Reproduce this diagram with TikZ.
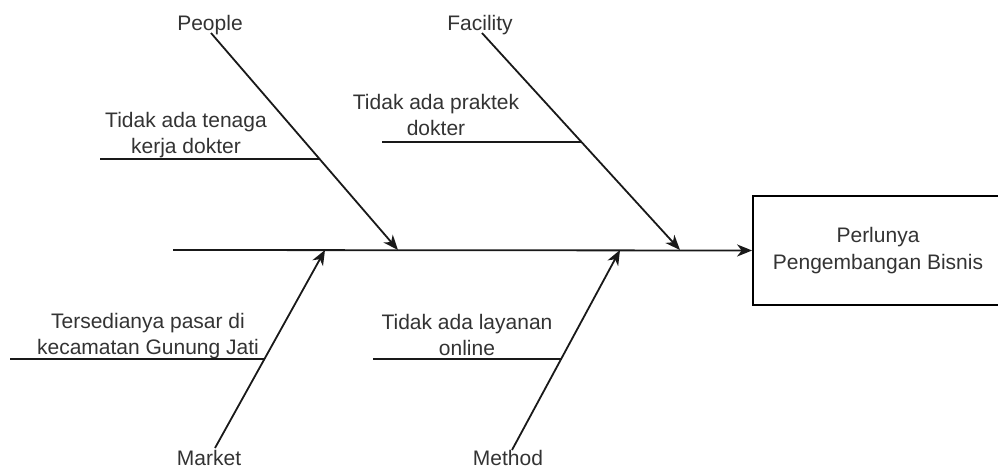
\documentclass[tikz,border=0pt]{standalone}
\usepackage{fontspec}
\setmainfont{Liberation Sans}
\usetikzlibrary{arrows.meta}
\begin{document}
\begin{tikzpicture}[x=1pt,y=-1pt,
  font=\fontsize{21}{26.5}\selectfont,
  txt/.style={align=center, inner sep=0pt, text=black!80},
  bone/.style={line width=1.8pt, draw=black!90},
  arr/.style={bone, -{Stealth[length=15pt,width=12pt,inset=4.5pt]}},
  effect/.style={draw=black, line width=1.8pt, minimum width=250pt, minimum height=109pt, inner sep=0pt, align=center, text=black!80}]
\useasboundingbox (0,0) rectangle (998,468);
% effect box
\node[effect] (box) at (878,250.5) {Perlunya\\Pengembangan Bisnis};
% spine
\coordinate (s0) at (173,250);
\draw[arr] (s0) -- (box.west);
% category labels
\node[txt] (people) at (210,25) {People};
\node[txt] (facility) at (480,25) {Facility};
\node[txt] (market) at (209,458) {Market};
\node[txt] (method) at (508,458) {Method};
% bone end points
\coordinate (p0) at (211,33);  \coordinate (p1) at (398,250);
\coordinate (f0) at (482,33);  \coordinate (f1) at (680,250);
\coordinate (m0) at (215,448); \coordinate (m1) at (325,250);
\coordinate (t0) at (512,450); \coordinate (t1) at (620,250);
\draw[arr] (p0) -- (p1);
\draw[arr] (f0) -- (f1);
\draw[arr] (m0) -- (m1);
\draw[arr] (t0) -- (t1);
% causes
\node[txt] (c1) at (186,135) {Tidak ada tenaga\\kerja dokter};
\coordinate (c1a) at (100,159); \coordinate (c1b) at (320,159);
\draw[bone] (c1a) -- (c1b);
\node[txt] (c2) at (436,115) {Tidak ada praktek\\dokter};
\coordinate (c2a) at (382,142); \coordinate (c2b) at (581,142);
\draw[bone] (c2a) -- (c2b);
\node[txt] (c3) at (148,336) {Tersedianya pasar di\\kecamatan Gunung Jati};
\coordinate (c3a) at (10,359); \coordinate (c3b) at (265,359);
\draw[bone] (c3a) -- (c3b);
\node[txt] (c4) at (467,335) {Tidak ada layanan\\online};
\coordinate (c4a) at (373,359); \coordinate (c4b) at (562,359);
\draw[bone] (c4a) -- (c4b);
\end{tikzpicture}
\end{document}
